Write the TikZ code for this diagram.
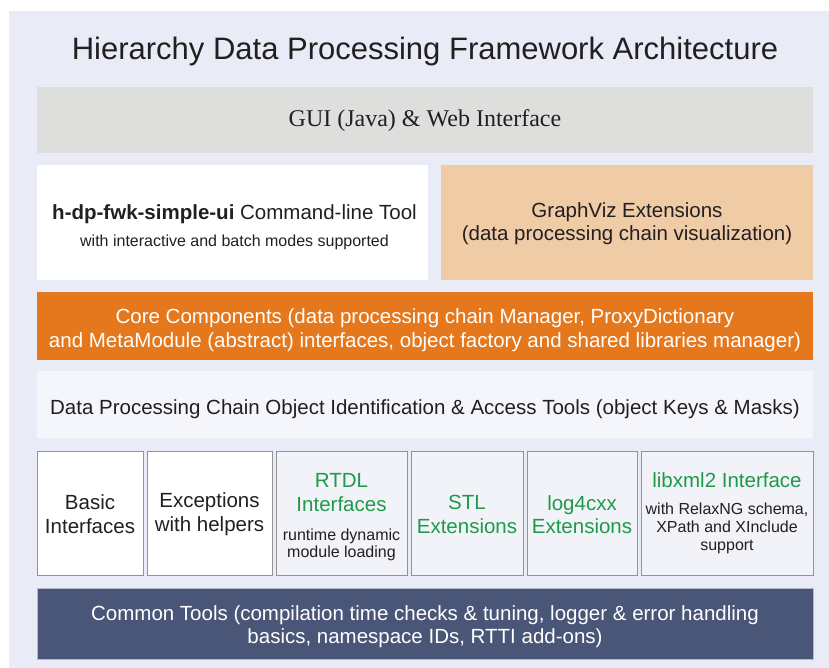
\documentclass[tikz,border=0pt]{standalone}
\usepackage{fontspec}
\setmainfont{Liberation Sans}
\newfontfamily\guifont{Liberation Serif}
\usepackage{tikz}

\definecolor{panelbg}{HTML}{E9ECF6}
\definecolor{guigray}{HTML}{DEDEDC}
\definecolor{vizpeach}{HTML}{EFCBA6}
\definecolor{coreorange}{HTML}{E5781C}
\definecolor{idpale}{HTML}{F5F6FB}
\definecolor{libpale}{HTML}{F2F3F9}
\definecolor{commonblue}{HTML}{4A5677}
\definecolor{libgreen}{HTML}{1E9A4A}
\definecolor{textdark}{HTML}{231F20}

\newcommand{\smalltxt}{\fontsize{16}{18}\selectfont}

\tikzset{
	layer/.style={inner sep=0pt, outer sep=0pt, minimum width=776pt},
	caption/.style={inner sep=0pt, align=center, text=textdark, font=\fontsize{20.5}{24}\selectfont},
	libbox/.style={draw=gray!85, line width=0.8pt, inner sep=0pt, outer sep=0pt, minimum height=124pt}
}

\begin{document}
\begin{tikzpicture}[x=1pt, y=-1pt]
							
							\useasboundingbox (0,0) rectangle (829,668);
							\fill[panelbg] (9,11) rectangle (829,668);
							
							\node[text=textdark, font=\fontsize{31}{36}\selectfont] (title) at (425,51) {Hierarchy Data Processing Framework Architecture};
							
							\node[layer, fill=guigray, minimum height=66pt] (gui) at (425,120) {};
							\node[caption, font=\guifont\fontsize{24}{28}\selectfont] (guitxt) at ([yshift=-1pt]gui.center) {GUI (Java) \& Web Interface};
							
							\node[fill=white, inner sep=0pt, minimum width=391pt, minimum height=115pt] (cli) at (232.5,222.5) {};
							\node[caption] (clitxt) at ([xshift=2pt, yshift=-5pt]cli.center)
								{\textbf{h-dp-fwk-simple-ui} Command-line Tool\\[3pt]
								{\smalltxt with interactive and batch modes supported}};
							\node[fill=vizpeach, inner sep=0pt, minimum width=372pt, minimum height=115pt] (viz) at (627,222.5) {};
							\node[caption, font=\fontsize{20.5}{23}\selectfont] (viztxt) at ([yshift=-1pt]viz.center)
								{GraphViz Extensions\\(data processing chain visualization)};
							
							\node[layer, fill=coreorange, minimum height=68pt] (core) at (425,326) {};
							\node[caption, text=white] (coretxt) at ([yshift=-4.5pt]core.center)
								{Core Components (data processing chain Manager, ProxyDictionary\\and MetaModule (abstract) interfaces, object factory and shared libraries manager)};
							
							\node[layer, fill=idpale, minimum height=67pt] (ident) at (425,404.5) {};
							\node[caption] (identtxt) at ([yshift=-4.5pt]ident.center)
								{Data Processing Chain Object Identification \& Access Tools (object Keys \& Masks)};
							
							\foreach \cx/\w/\shade/\dy/\name/\txt in {
								90/106/white/-1/basic/{Basic\\Interfaces},
								209.5/125/white/-1/except/{Exceptions\\with helpers},
								341.5/131/libpale/-4/rtdl/{\textcolor{libgreen}{RTDL}\\\textcolor{libgreen}{Interfaces}\\[5.5pt]{\smalltxt runtime dynamic}\\[-6.5pt]{\smalltxt module loading}},
								467/112/libpale/-1.5/stl/{\textcolor{libgreen}{STL}\\\textcolor{libgreen}{Extensions}},
								582/110/libpale/-1.5/logcxx/{\textcolor{libgreen}{log4cxx}\\\textcolor{libgreen}{Extensions}},
								727/172/libpale/0/xmllib/{\textcolor{libgreen}{libxml2 Interface}\\[3.5pt]{\smalltxt with RelaxNG schema,}\\[-5.5pt]{\smalltxt XPath and XInclude}\\[-5.5pt]{\smalltxt support}}}
							{
								\node[libbox, fill=\shade, minimum width=\w pt] (\name) at (\cx,513) {};
								\node[caption, font=\fontsize{20.5}{23.5}\selectfont] (\name txt) at ([yshift=\dy pt]\name.center) {\txt};
							};
							
							\node[layer, fill=commonblue, draw=commonblue!40, minimum height=71pt] (common) at (425,623.5) {};
							\node[caption, text=white, font=\fontsize{20.5}{23}\selectfont] (commontxt) at ([yshift=-3pt]common.center)
								{Common Tools (compilation time checks \& tuning, logger \& error handling\\basics, namespace IDs, RTTI add-ons)};
							
							\end{tikzpicture}
\end{document}
